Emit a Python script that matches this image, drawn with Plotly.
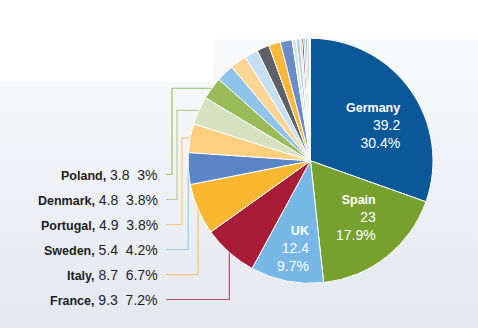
import math
import plotly.graph_objects as go

# EU installed wind capacity by country (GW), clockwise from 12 o'clock
countries = ["Germany", "Spain", "UK", "France", "Italy", "Sweden", "Portugal",
             "Denmark", "Poland", "Romania", "Netherlands", "Ireland", "Austria",
             "Greece", "Belgium", "Bulgaria", "Finland", "Croatia", "Hungary",
             "Estonia", "Czech Republic", "Lithuania", "Cyprus", "Latvia", "Luxembourg"]
capacity_gw = [39.2, 23.0, 12.4, 9.3, 8.7, 5.4, 4.9,
               4.8, 3.8, 3.0, 2.8, 2.3, 2.1,
               2.0, 2.0, 0.7, 0.6, 0.35, 0.33,
               0.3, 0.28, 0.28, 0.15, 0.06, 0.06]
slice_colors = ["#0b5899", "#77a12e", "#76b7e5", "#a81c36", "#fab832", "#5a86c8", "#fdcf7f",
                "#d4e2bf", "#9abb5a", "#8fc3ea", "#fdd594", "#c7dff3", "#5d6167",
                "#fbb73a", "#6a8cc7", "#d5e7e2", "#a9d0e8", "#efc9c1", "#7d2445",
                "#8ba2bb", "#5295a3", "#3f74a6", "#c9b6d6", "#9aa8b4", "#7fa8c9"]

# Labels drawn inside the three largest slices
inside_names = ["Germany", "Spain", "UK"]
inside_shares = ["30.4%", "17.9%", "9.7%"]
# Labels listed down the left side, top to bottom, with their leader-line colours
outside_names = ["Poland", "Denmark", "Portugal", "Sweden", "Italy", "France"]
outside_shares = ["3%", "3.8%", "3.8%", "4.2%", "6.7%", "7.2%"]
leader_colors = ["#9dbf62", "#b9cf98", "#f8c878", "#9ccbeb", "#f8c463", "#b5536a"]

# ---- layout geometry (pixels) ----
W, H = 478, 328
CX, CY, R = 310.5, 160.8, 122.5
FONT = "Liberation Sans, Arial, sans-serif"

total = sum(capacity_gw)
mid_angle = {}
acc = 0.0
for name, v in zip(countries, capacity_gw):
    mid_angle[name] = 360.0 * (acc + v / 2) / total
    acc += v
value_of = dict(zip(countries, capacity_gw))


def polar(name, radius):
    a = math.radians(mid_angle[name])
    return CX + radius * math.sin(a), CY - radius * math.cos(a)


fig = go.Figure()

# soft panel behind the chart
fig.add_trace(go.Scatter(
    x=[0, 213, 213, W, W, 0, 0], y=[82, 82, 39, 39, H, H, 82],
    mode="lines", fill="toself", line=dict(width=0),
    fillgradient=dict(type="vertical", start=39, stop=H,
                      colorscale=[[0, "#f9fafc"], [1, "#e3e8ef"]]),
    hoverinfo="skip", showlegend=False))

# elbow connectors from the side labels to their slices
row_y0, row_step, line_x0, label_x = 174.5, 25.0, 166, 160
elbow_x = {"Poland": 172, "Denmark": 177, "Portugal": 182}
for i, name in enumerate(outside_names):
    ry = row_y0 + i * row_step
    ex, ey = polar(name, R)
    vx = elbow_x.get(name, ex)
    fig.add_trace(go.Scatter(
        x=[line_x0, vx, vx, ex], y=[ry, ry, ey, ey], mode="lines",
        line=dict(color=leader_colors[i], width=1.2),
        hoverinfo="skip", showlegend=False))
    fig.add_annotation(
        x=label_x, y=ry, xref="x", yref="y", xanchor="right", yanchor="middle",
        showarrow=False, font=dict(family=FONT, size=14, color="#1e1e1e"),
        text=(f"<span style='font-size:12.5px'><b>{name},</b></span> "
              f"{value_of[name]:g}\u00a0\u00a0{outside_shares[i]}"))

fig.add_trace(go.Pie(
    labels=countries, values=capacity_gw, sort=False, direction="clockwise",
    rotation=0, textinfo="none", hoverinfo="label+value+percent",
    marker=dict(colors=slice_colors, line=dict(color="white", width=1)),
    domain=dict(x=[(CX - R) / W, (CX + R) / W],
                y=[(H - CY - R) / H, (H - CY + R) / H]),
    showlegend=False))

# inside labels, right-aligned blocks placed along each slice's mid-angle
inside_radius = {"Germany": 0.62 * R, "Spain": 0.60 * R, "UK": 0.735 * R}
inside_shift = {"Germany": -9, "Spain": 0, "UK": 0}
for name, share in zip(inside_names, inside_shares):
    tx, ty = polar(name, inside_radius[name])
    fig.add_annotation(
        x=tx, y=ty, xref="x", yref="y", xanchor="center", yanchor="middle",
        yshift=inside_shift[name], align="right", showarrow=False,
        font=dict(family=FONT, size=14, color="white"),
        text=(f"<span style='font-size:12.5px'><b>{name}</b></span><br>"
              f"{value_of[name]:g}<br>{share}"))

fig.update_layout(
    width=W, height=H, margin=dict(l=0, r=0, t=0, b=0),
    paper_bgcolor="white", plot_bgcolor="rgba(0,0,0,0)",
    xaxis=dict(range=[0, W], visible=False, fixedrange=True),
    yaxis=dict(range=[H, 0], visible=False, fixedrange=True),
    font=dict(family=FONT),
)

fig.write_html("out.html")
